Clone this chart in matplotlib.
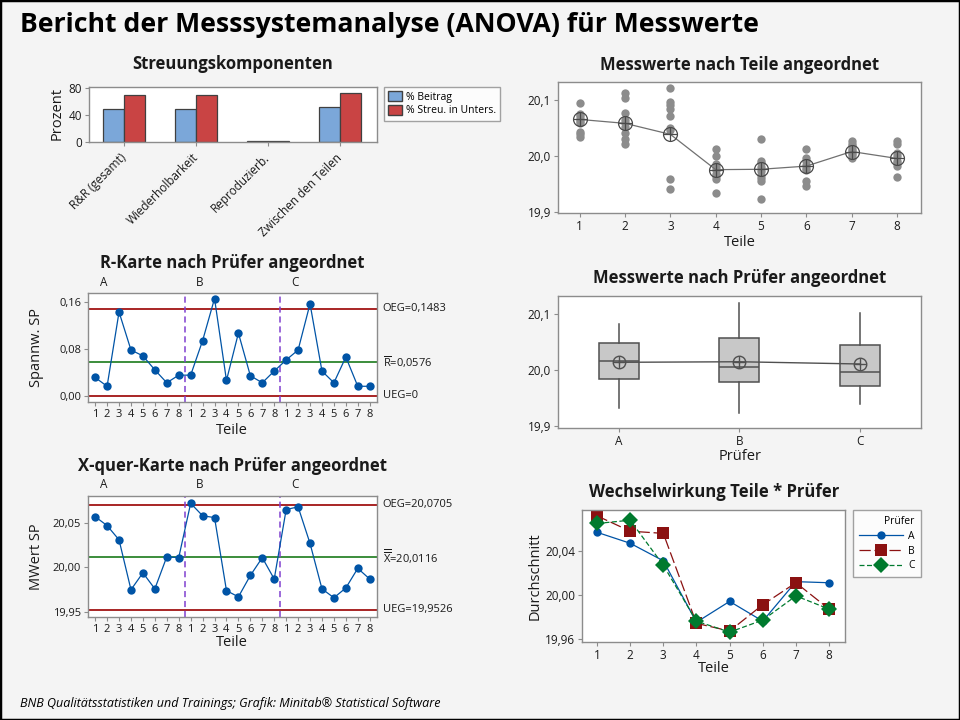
import numpy as np
import matplotlib
matplotlib.use('Agg')
import matplotlib.pyplot as plt
from matplotlib.patches import Patch, Rectangle

plt.rcParams['font.family'] = ['Open Sans', 'DejaVu Sans']
plt.rcParams['mathtext.fontset'] = 'custom'
plt.rcParams['mathtext.rm'] = 'Open Sans'
plt.rcParams['mathtext.sf'] = 'Open Sans'

# ---- data ----
komponenten = ['R&R (gesamt)', 'Wiederholbarkeit', 'Reproduzierb.', 'Zwischen den Teilen']
pct_beitrag = [48.5, 48.5, 1.0, 51.5]
pct_streu = [69.6, 69.6, 1.0, 71.8]

teile = [1, 2, 3, 4, 5, 6, 7, 8]
pruefer = ['A', 'B', 'C']

# subgroup means (n=3) per Prüfer and part
xbar_A = [20.057, 20.047, 20.031, 19.975, 19.994, 19.976, 20.012, 20.011]
xbar_B = [20.072, 20.058, 20.056, 19.974, 19.967, 19.991, 20.011, 19.987]
xbar_C = [20.065, 20.068, 20.027, 19.976, 19.966, 19.977, 19.999, 19.987]

# subgroup ranges
range_A = [0.031, 0.016, 0.143, 0.078, 0.068, 0.044, 0.022, 0.035]
range_B = [0.035, 0.094, 0.166, 0.026, 0.107, 0.034, 0.022, 0.042]
range_C = [0.061, 0.078, 0.157, 0.042, 0.022, 0.066, 0.016, 0.016]

r_oeg, r_mitte, r_ueg = 0.1483, 0.0576, 0.0
x_oeg, x_mitte, x_ueg = 20.0705, 20.0116, 19.9526

# individual measurements per part (dot plot)
werte_teil = [
    [20.094, 20.075, 20.070, 20.066, 20.062, 20.058, 20.042, 20.038, 20.033],
    [20.112, 20.103, 20.076, 20.064, 20.058, 20.052, 20.040, 20.029, 20.020],
    [20.121, 20.095, 20.090, 20.084, 20.070, 20.050, 20.045, 19.958, 19.941],
    [20.011, 19.999, 19.985, 19.980, 19.974, 19.968, 19.963, 19.958, 19.933],
    [20.029, 19.990, 19.986, 19.980, 19.972, 19.966, 19.960, 19.955, 19.923],
    [20.011, 19.996, 19.991, 19.984, 19.978, 19.974, 19.955, 19.946],
    [20.026, 20.020, 20.017, 20.011, 20.008, 20.005, 20.002, 19.996],
    [20.027, 20.020, 20.004, 19.999, 19.990, 19.986, 19.982, 19.962],
]

# box plot statistics per Prüfer
box_min = [19.933, 19.923, 19.940]
box_q1 = [19.984, 19.979, 19.971]
box_med = [20.016, 20.006, 19.996]
box_q3 = [20.048, 20.057, 20.045]
box_max = [20.083, 20.121, 20.103]
box_mean = [20.014, 20.015, 20.011]

# ---- styling ----
W, H = 960, 720
BG = '#f4f4f4'
FRAME = '#8c8c8c'
BLUE = '#0054a6'
DRED = '#990000'
GREEN = '#1a7a1a'
PURPLE = '#8040d0'
TXT = '#1a1a1a'

fig = plt.figure(figsize=(W / 100, H / 100), dpi=100, facecolor=BG)


def rect(l, t, r, b):
    return [l / W, 1 - b / H, (r - l) / W, (b - t) / H]


def ftext(x, y, s, **kw):
    kw.setdefault('color', TXT)
    return fig.text(x / W, 1 - y / H, s, **kw)


def style(ax, size=8.5):
    ax.set_facecolor('white')
    for sp in ax.spines.values():
        sp.set_color(FRAME)
        sp.set_linewidth(1.0)
    ax.tick_params(colors=FRAME, labelcolor=TXT, labelsize=size, length=3, width=0.8, pad=2)


fig.patches.append(Rectangle((0, 0), 1, 1, transform=fig.transFigure, fill=False,
                             edgecolor='black', linewidth=2.5))

ftext(20, 25, 'Bericht der Messsystemanalyse (ANOVA) für Messwerte',
      fontsize=19.2, fontweight='bold', ha='left', va='center', color='black')
ftext(20, 703, 'BNB Qualitätsstatistiken und Trainings; Grafik: Minitab® Statistical Software',
      fontsize=9, style='italic', ha='left', va='center', color='black')

# ---- Streuungskomponenten ----
ax = fig.add_axes(rect(89, 87, 377, 142))
style(ax)
x = np.arange(len(komponenten))
bw = 0.29
ax.bar(x - bw / 2, pct_beitrag, bw, color='#7ba7d9', edgecolor='#404040', linewidth=0.9)
ax.bar(x + bw / 2, pct_streu, bw, color='#c94444', edgecolor='#404040', linewidth=0.9)
ax.set_xlim(-0.49, 3.51)
ax.set_ylim(0, 81)
ax.set_yticks([0, 40, 80])
ax.set_yticklabels(['0', '40', '80'])
ax.set_xticks(x)
ax.set_xticklabels(komponenten, rotation=45, ha='right', va='center',
                   rotation_mode='anchor', fontsize=8.5)
ax.tick_params(axis='x', pad=7)
ftext(233, 64, 'Streuungskomponenten', fontsize=12, fontweight='bold', ha='center', va='center')
ftext(57, 114, 'Prozent', fontsize=10.5, rotation=90, ha='center', va='center')
hb = [Patch(facecolor='#7ba7d9', edgecolor='#404040', label='% Beitrag'),
      Patch(facecolor='#c94444', edgecolor='#404040', label='% Streu. in Unters.')]
leg = ax.legend(handles=hb, loc='upper left', bbox_to_anchor=(384 / W, 1 - 87 / H),
                bbox_transform=fig.transFigure, fontsize=7.5, fancybox=False,
                edgecolor=FRAME, handlelength=1.3, handleheight=1.1, handletextpad=0.4,
                borderpad=0.4, labelspacing=0.2, borderaxespad=0)
leg.get_frame().set_linewidth(1.0)

# ---- Messwerte nach Teile ----
ax = fig.add_axes(rect(558, 82, 921, 213))
style(ax)
for t, werte in zip(teile, werte_teil):
    ax.plot([t] * len(werte), werte, 'o', color='#8c8c8c', markersize=6, markeredgewidth=0)
teil_mittel = np.mean([xbar_A, xbar_B, xbar_C], axis=0)
ax.plot(teile, teil_mittel, '-', color='#707070', lw=0.9, zorder=3)
ax.plot(teile, teil_mittel, 'o', markerfacecolor='none', markeredgecolor='#4a4a4a',
        markersize=10, markeredgewidth=0.9, zorder=4)
ax.plot(teile, teil_mittel, '+', color='#4a4a4a', markersize=10, markeredgewidth=0.9, zorder=4)
ax.set_xlim(0.52, 8.53)
ax.set_ylim(19.8976, 20.1315)
ax.set_xticks(teile)
ax.set_yticks([19.9, 20.0, 20.1])
ax.set_yticklabels(['19,9', '20,0', '20,1'])
ftext(740, 65, 'Messwerte nach Teile angeordnet', fontsize=12, fontweight='bold', ha='center', va='center')
ftext(740, 242, 'Teile', fontsize=10.5, ha='center', va='center')


# ---- control charts ----
def control_chart(ax, values, oeg, mitte, ueg, ylim):
    style(ax, size=8)
    n = len(values)
    pos = np.arange(1, n + 1)
    ax.axhline(oeg, color=DRED, lw=1.2)
    ax.axhline(ueg, color=DRED, lw=1.2)
    ax.axhline(mitte, color=GREEN, lw=1.2)
    for g in range(1, len(pruefer)):
        ax.axvline(g * len(teile) + 0.5, color=PURPLE, lw=1.1, ls=(0, (4, 2.5)))
    ax.plot(pos, values, '-', color=BLUE, lw=0.9)
    ax.plot(pos, values, 'o', color=BLUE, markersize=6, markeredgewidth=0, zorder=5)
    ax.set_xlim(0.4, n + 0.61)
    ax.set_ylim(*ylim)
    ax.set_xticks(pos)
    ax.set_xticklabels([str(t) for t in teile] * len(pruefer))
    for g, p in enumerate(pruefer):
        ax.text(g * len(teile) + 1.75, 1.04, p, transform=ax.get_xaxis_transform(),
                fontsize=8.5, ha='center', va='bottom', color=TXT)


def fmt(v):
    return f'{v:.4f}'.replace('.', ',')


ax = fig.add_axes(rect(88, 293, 377, 402))
control_chart(ax, range_A + range_B + range_C, r_oeg, r_mitte, r_ueg, (-0.0109, 0.1755))
ax.set_yticks([0.0, 0.08, 0.16])
ax.set_yticklabels(['0,00', '0,08', '0,16'])
ftext(232, 263, 'R-Karte nach Prüfer angeordnet', fontsize=12, fontweight='bold', ha='center', va='center')
ftext(232, 431, 'Teile', fontsize=10.5, ha='center', va='center')
ftext(36, 347, 'Spannw. SP', fontsize=10.5, rotation=90, ha='center', va='center')
tr = ax.get_yaxis_transform()
kw = dict(transform=tr, fontsize=8, ha='left', va='center', color=TXT)
ax.text(1.02, r_oeg, 'OEG=' + fmt(r_oeg), **kw)
ax.text(1.02, r_mitte, r'$\overline{\mathrm{R}}$=' + fmt(r_mitte), **kw)
ax.text(1.02, r_ueg, 'UEG=0', **kw)

ax = fig.add_axes(rect(88, 496, 377, 617))
control_chart(ax, xbar_A + xbar_B + xbar_C, x_oeg, x_mitte, x_ueg, (19.9444, 20.0802))
ax.set_yticks([19.95, 20.0, 20.05])
ax.set_yticklabels(['19,95', '20,00', '20,05'])
ftext(232, 466, 'X-quer-Karte nach Prüfer angeordnet', fontsize=12, fontweight='bold', ha='center', va='center')
ftext(232, 643, 'Teile', fontsize=10.5, ha='center', va='center')
ftext(36, 557, 'MWert SP', fontsize=10.5, rotation=90, ha='center', va='center')
tr = ax.get_yaxis_transform()
kw = dict(transform=tr, fontsize=8, ha='left', va='center', color=TXT)
ax.text(1.02, x_oeg, 'OEG=' + fmt(x_oeg), **kw)
ax.text(1.02, x_mitte, r'$\overline{\overline{\mathrm{X}}}$=' + fmt(x_mitte), **kw)
ax.text(1.02, x_ueg, 'UEG=' + fmt(x_ueg), **kw)

# ---- Messwerte nach Prüfer ----
ax = fig.add_axes(rect(558, 296, 921, 428))
style(ax)
stats = [dict(whislo=lo, q1=q1, med=md, q3=q3, whishi=hi, fliers=[])
         for lo, q1, md, q3, hi in zip(box_min, box_q1, box_med, box_q3, box_max)]
pos = np.arange(1, len(pruefer) + 1)
ax.bxp(stats, positions=pos, widths=0.333, showcaps=False, patch_artist=True,
       boxprops=dict(facecolor='#c8c8c8', edgecolor='#505050', linewidth=1.1),
       medianprops=dict(color='#505050', linewidth=1.1),
       whiskerprops=dict(color='#505050', linewidth=1.1))
ax.plot(pos, box_mean, '-', color='#505050', lw=1.0, zorder=4)
ax.plot(pos, box_mean, 'o', markerfacecolor='none', markeredgecolor='#505050',
        markersize=9, markeredgewidth=1.0, zorder=5)
ax.plot(pos, box_mean, '+', color='#505050', markersize=9, markeredgewidth=1.0, zorder=5)
ax.set_xlim(0.494, 3.51)
ax.set_ylim(19.8964, 20.1327)
ax.set_xticks(pos)
ax.set_xticklabels(pruefer)
ax.set_yticks([19.9, 20.0, 20.1])
ax.set_yticklabels(['19,9', '20,0', '20,1'])
ftext(740, 278, 'Messwerte nach Prüfer angeordnet', fontsize=12, fontweight='bold', ha='center', va='center')
ftext(740, 456, 'Prüfer', fontsize=10.5, ha='center', va='center')

# ---- Wechselwirkung ----
ax = fig.add_axes(rect(582, 510, 845, 642))
style(ax)
ax.plot(teile, xbar_A, '-o', color=BLUE, lw=0.9, markersize=6, markeredgewidth=0, label='A')
ax.plot(teile, xbar_B, 's', color='#8b1111', ls=(0, (9, 3)), lw=0.9, markersize=9,
        markeredgewidth=0, label='B')
ax.plot(teile, xbar_C, 'D', color='#007a2e', ls=(0, (4, 2)), lw=0.9, markersize=8,
        markeredgewidth=0, label='C')
ax.set_xlim(0.548, 8.48)
ax.set_ylim(19.957, 20.0773)
ax.set_xticks(teile)
ax.set_yticks([19.96, 20.0, 20.04])
ax.set_yticklabels(['19,96', '20,00', '20,04'])
ftext(714, 492, 'Wechselwirkung Teile * Prüfer', fontsize=12, fontweight='bold', ha='center', va='center')
ftext(714, 669, 'Teile', fontsize=10.5, ha='center', va='center')
ftext(535, 576, 'Durchschnitt', fontsize=10.5, rotation=90, ha='center', va='center')
leg = ax.legend(title='Prüfer', loc='upper left', bbox_to_anchor=(853 / W, 1 - 510 / H),
                bbox_transform=fig.transFigure, fontsize=7.5, title_fontsize=7.5,
                fancybox=False, edgecolor=FRAME, handlelength=4.2, handletextpad=0.5,
                borderpad=0.6, labelspacing=0.35, borderaxespad=0, alignment='right')
leg.get_frame().set_linewidth(1.0)

fig.savefig('out.png', dpi=100, facecolor=BG)
